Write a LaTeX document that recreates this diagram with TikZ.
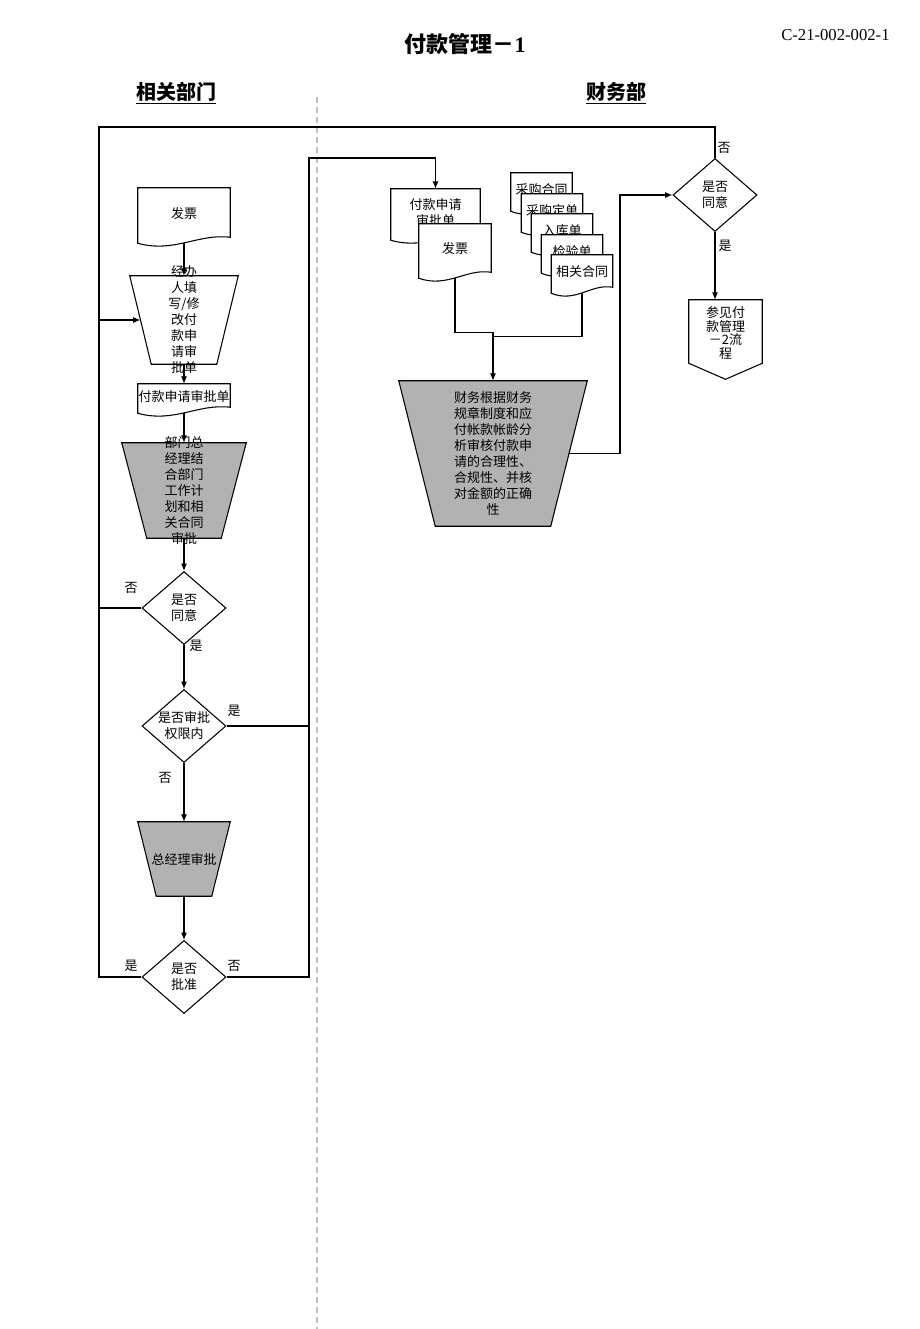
\documentclass[tikz,border=0pt]{standalone}
\usepackage{fontspec}
\setmainfont{Liberation Serif}
\newfontfamily\cjk{Noto Sans CJK SC}
\usetikzlibrary{shapes.geometric,calc,arrows.meta}
\definecolor{trapgrey}{RGB}{178,178,178}
\definecolor{laneline}{RGB}{190,190,190}
\tikzset{
  base/.style={line width=0.8pt},
  ln/.style={base},
  arr/.style={base,-{Latex[length=5.5pt,width=4.5pt]}},
  box/.style 2 args={draw=none,inner sep=0pt,minimum width=#1*0.75pt,minimum height=#2*0.75pt},
  txt/.style={font=\cjk\fontsize{9.75}{12}\selectfont,align=center,inner sep=0pt},
  lbl/.style={txt},
  dia/.style={shape=diamond,draw,base,fill=white,inner sep=0pt,minimum width=84*0.75pt,minimum height=73*0.75pt},
  head/.style={font=\cjk\bfseries\fontsize{15}{18}\selectfont,inner sep=0pt},
}
% document shape: name, x, y, w, h, text
\newcommand\docnode[6]{%
  \node[box={#4}{#5}] (#1) at (#2,#3) {};
  \draw[base,fill=white] (#1.north west) -- (#1.south west)
    .. controls ($(#1.south west)!0.4!(#1.south east)+(0,10)$) and ($(#1.south west)!0.65!(#1.south east)+(0,-10)$) .. ($(#1.south east)+(0,-6)$)
    -- (#1.north east) -- cycle;
  \node[txt] (#1-t) at ($(#1.center)+(0,-2)$) {#6};}
% trapezoid: name, x, y, w, h, inset, fill, text
\newcommand\trapnode[8]{%
  \node[box={#4}{#5}] (#1) at (#2,#3) {};
  \coordinate (#1-bl) at ($(#1.south west)+(#6,0)$);
  \coordinate (#1-br) at ($(#1.south east)+(-#6,0)$);
  \coordinate (#1-l) at ($(#1.north west)!0.5!(#1-bl)$);
  \coordinate (#1-r) at ($(#1.north east)!0.5!(#1-br)$);
  \draw[base,fill=#7] (#1.north west) -- (#1.north east) -- (#1-br) -- (#1-bl) -- cycle;
  \node[txt] (#1-t) at (#1.center) {#8};}
\begin{document}
\begin{tikzpicture}[x=0.75pt,y=-0.75pt]
\useasboundingbox (0,0) rectangle (920,1329);

% titles
\node[font=\cjk\bfseries\fontsize{16.5}{20}\selectfont,inner sep=0pt] (title) at (465,44) {付款管理－{\rmfamily\bfseries 1}};
\node[font=\fontsize{12.5}{15}\selectfont,anchor=west,inner sep=0pt] (code) at (781,35) {C-21-002-002-1};
\node[head] (h1) at (176,93) {\underline{相关部门}};
\node[head] (h2) at (616,93) {\underline{财务部}};

% lane separator
\draw[laneline,line width=0.8pt,dash pattern=on 4.5pt off 3pt] (317,97) -- (317,1329);

% left column
\docnode{doc1}{184}{215.5}{92}{55}{发票}
\trapnode{t1}{184}{320}{108}{88}{21.5}{white}{经办\\人填\\写/修\\改付\\款申\\请审\\批单}
\docnode{doc2}{184}{398.5}{92}{29}{付款申请审批单}
\trapnode{t2}{184}{490.5}{124}{95}{25}{trapgrey}{部门总\\经理结\\合部门\\工作计\\划和相\\关合同\\审批}
\node[dia] (d1) at (184,608) {};
\node[txt] (d1-t) at (d1.center) {是否\\同意};
\node[dia] (d2) at (184,726) {};
\node[txt] (d2-t) at (d2.center) {是否审批\\权限内};
\trapnode{t3}{184}{859}{92}{74}{18.5}{trapgrey}{总经理审批}
\node[dia] (d3) at (184,977) {};
\node[txt] (d3-t) at (d3.center) {是否\\批准};

% right column
\docnode{doc3}{435.5}{214.5}{89}{51}{付款申请\\审批单}
\docnode{doc4}{455}{251}{72}{54}{发票}
\docnode{s1}{541.5}{192}{61}{38}{采购合同}
\docnode{s2}{552}{213}{61}{38}{采购定单}
\docnode{s3}{562}{233}{61}{38}{入库单}
\docnode{s4}{572}{254}{61}{38}{检验单}
\docnode{s5}{582}{274}{61}{38}{相关合同}
\trapnode{t4}{493}{453.5}{188}{145}{36.5}{trapgrey}{财务根据财务\\规章制度和应\\付帐款帐龄分\\析审核付款申\\请的合理性、\\合规性、并核\\对金额的正确\\性}
\node[dia] (d4) at (715,195) {};
\node[txt] (d4-t) at (d4.center) {是否\\同意};
\node[box={73}{79}] (off) at (725.5,339.5) {};
\draw[base,fill=white] (off.north west) -- (off.north east) -- ($(off.south east)+(0,-16)$) -- (off.south) -- ($(off.south west)+(0,-16)$) -- cycle;
\node[txt,font=\cjk\fontsize{9.75}{10.2}\selectfont] (off-t) at (725.5,333) {参见付\\款管理\\－2流\\程};

% connectors, left column
\draw[arr] (doc1.south) -- (t1.north);
\draw[arr] (t1.south) -- (doc2.north);
\draw[arr] (doc2.south) -- (t2.north);
\draw[arr] (t2.south) -- (d1.north);
\draw[arr] (d1.south) -- (d2.north);
\draw[arr] (d2.south) -- (t3.north);
\draw[arr] (t3.south) -- (d3.north);

\coordinate (lt) at (99,127);
\coordinate (rt) at (309,158);
\draw[ln] (d4.north) |- (lt) |- (d3.west);
\draw[ln] (d1.west) -- (d1.west -| lt);
\draw[arr] (t1-l -| lt) -- (t1-l);
\draw[arr] (d3.east) -| (rt) -| (doc3.north);
\draw[ln] (d2.east) -- (d2.east -| rt);

% connectors, right column
\draw[arr] (doc4.south) -- ++(0,54) -| (t4.north);
\draw[ln] (s5.south) |- ($(t4.north)+(0,-44)$);
\draw[arr] (t4-r) -- ++(51,0) |- (d4.west);
\draw[arr] (d4.south) -- (d4.south |- off.north);

% branch labels
\node[lbl] (l1) at (131,588) {否};
\node[lbl] (l2) at (196,646) {是};
\node[lbl] (l3) at (234,711) {是};
\node[lbl] (l4) at (165,778) {否};
\node[lbl] (l5) at (131,966) {是};
\node[lbl] (l6) at (234,966) {否};
\node[lbl] (l7) at (724,148) {否};
\node[lbl] (l8) at (725,246) {是};
\end{tikzpicture}
\end{document}
